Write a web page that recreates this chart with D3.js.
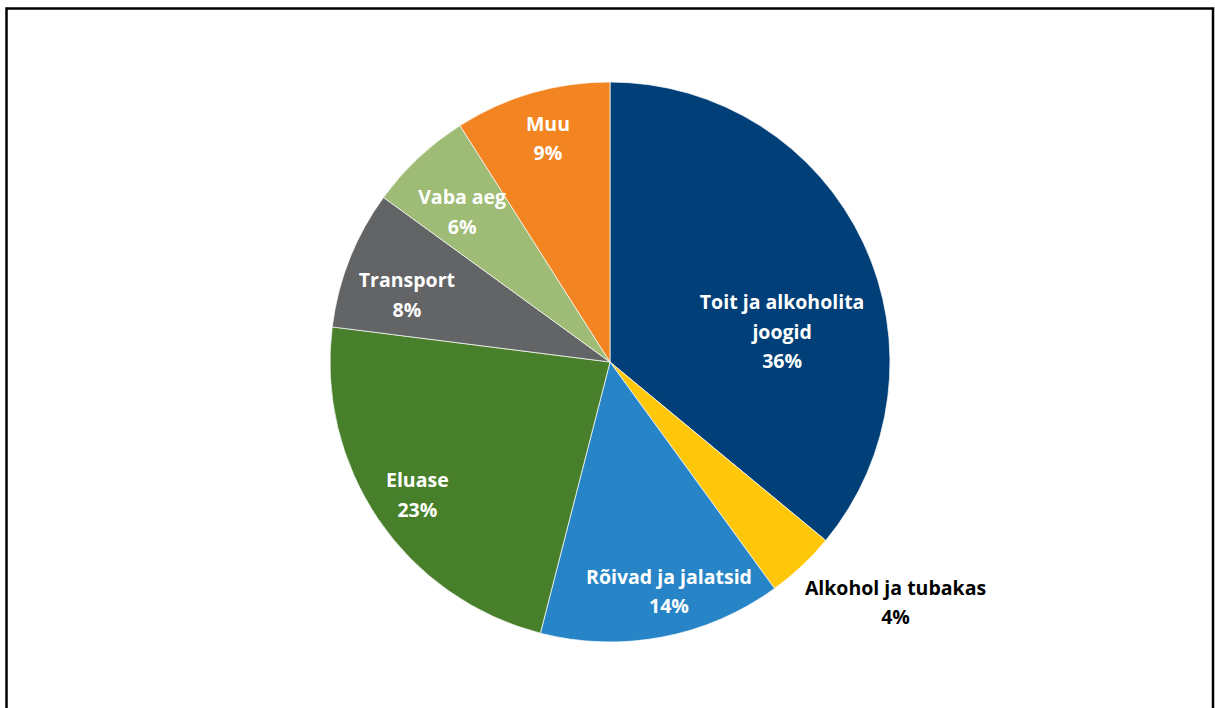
<!DOCTYPE html>
<html>
<head>
<meta charset="utf-8">
<script src="https://cdn.jsdelivr.net/npm/d3@7"></script>
<style>
  body { margin: 0; background: #fff; }
  svg text { font-family: 'Open Sans', Lato, sans-serif; font-weight: 700; }
</style>
</head>
<body>
<script>
// Chart data (clockwise from 12 o'clock)
let categories = ['Toit ja alkoholita joogid', 'Alkohol ja tubakas', 'Rõivad ja jalatsid',
  'Eluase', 'Transport', 'Vaba aeg', 'Muu'];
let values = [36, 4, 14, 23, 8, 6, 9];
let colors = ['#003F77', '#FFC709', '#2785C7', '#477F2B', '#636466', '#9EBC76', '#F28422'];
// label lines as shown in the chart
let labelLines = [['Toit ja alkoholita', 'joogid'], ['Alkohol ja tubakas'], ['Rõivad ja jalatsid'],
  ['Eluase'], ['Transport'], ['Vaba aeg'], ['Muu']];

let width = 1215, height = 708;
let cx = 610, cy = 362, radius = 280;

let svg = d3.select('body').append('svg')
  .attr('width', width)
  .attr('height', height);

// frame (open at the bottom, like the cropped original)
svg.append('path')
  .attr('d', `M6.5,${height + 5} L6.5,8.5 L1213,8.5 L1213,${height + 5}`)
  .attr('fill', 'none')
  .attr('stroke', '#000')
  .attr('stroke-width', 2.5);

let data = categories.map((c, i) => ({ name: c, value: values[i], lines: labelLines[i], color: colors[i] }));

let pie = d3.pie().value(d => d.value).sort(null);
let arcs = pie(data);

let arc = d3.arc().innerRadius(0).outerRadius(radius);
let g = svg.append('g').attr('transform', `translate(${cx},${cy})`);

g.selectAll('path.slice')
  .data(arcs)
  .enter()
  .append('path')
  .attr('class', 'slice')
  .attr('d', arc)
  .attr('fill', d => d.data.color)
  .attr('stroke', '#fff')
  .attr('stroke-width', 0.7);

// "best fit" label placement: radius factor and angle nudge (degrees) per slice
let labelFit = [[0.624, 15.3], [1.333, -6.7], [0.847, -3.6], [0.836, -0.4], [0.764, -3.3], [0.752, -1.4], [0.829, 0.7]];
function labelPos(d, i) {
  let a = (d.startAngle + d.endAngle) / 2 + labelFit[i][1] * Math.PI / 180;
  let r = radius * labelFit[i][0];
  return [r * Math.sin(a), -r * Math.cos(a)];
}

let lineH = 29.5;
g.selectAll('text.lbl')
  .data(arcs)
  .enter()
  .append('text')
  .attr('class', 'lbl')
  .attr('text-anchor', 'middle')
  .attr('font-size', '19.5px')
  .attr('fill', (d, i) => i === 1 ? '#000' : '#fff')
  .each(function(d, i) {
    let p = labelPos(d, i);
    let lines = d.data.lines.concat([d3.format('.0f')(d.data.value) + '%']);
    let top = p[1] - (lines.length - 1) * lineH / 2;
    let t = d3.select(this);
    lines.forEach((l, j) => {
      t.append('tspan')
        .attr('x', p[0])
        .attr('y', top + j * lineH)
        .attr('dy', '0.36em')
        .text(l);
    });
  });
</script>
</body>
</html>
